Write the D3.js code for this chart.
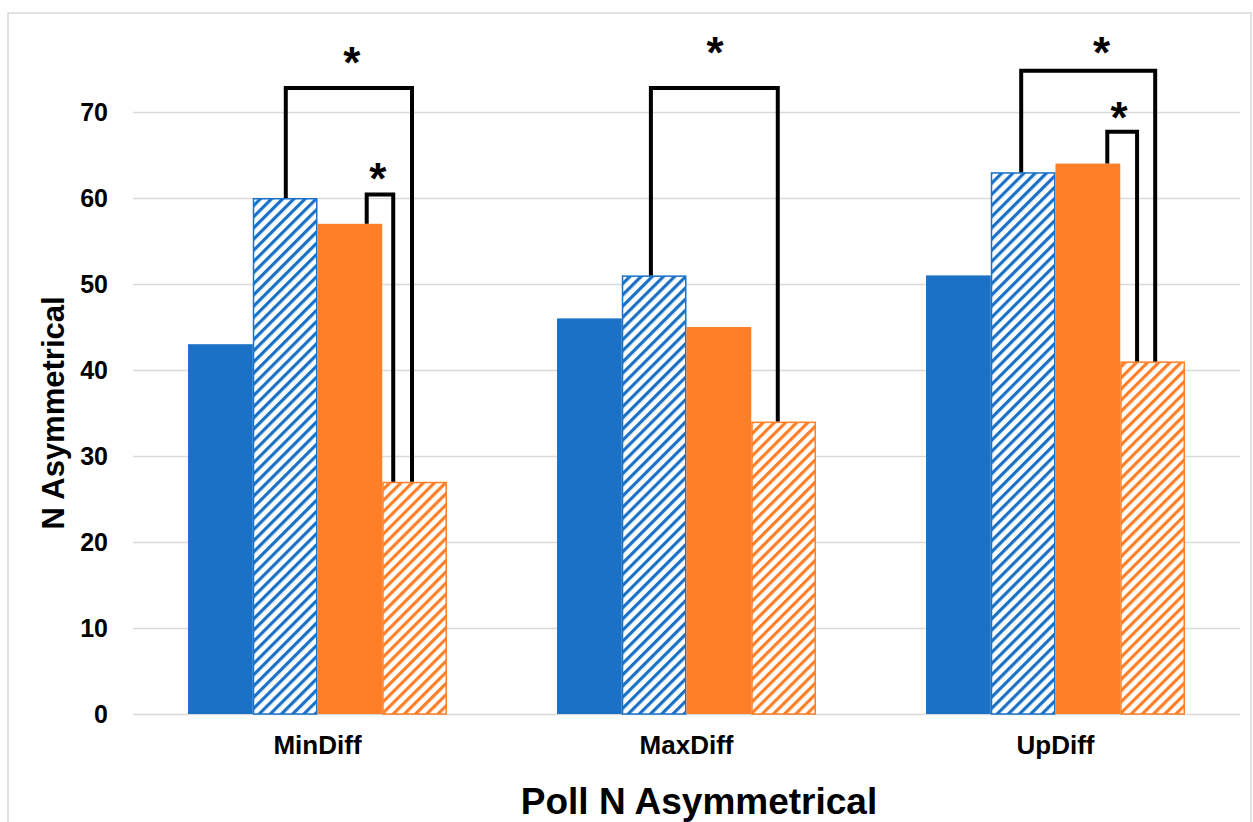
<!DOCTYPE html>
<html>
<head>
<meta charset="utf-8">
<script src="https://cdn.jsdelivr.net/npm/d3@7"></script>
<style>
  html, body { margin: 0; padding: 0; background: #fff; }
  svg { display: block; font-family: "Liberation Sans", Arial, sans-serif; }
</style>
</head>
<body>
<svg id="chart" width="1253" height="822"></svg>
<script>
// ---- data ----
const categories = ["MinDiff", "MaxDiff", "UpDiff"];
const seriesKeys = ["blueSolid", "blueHatched", "orangeSolid", "orangeHatched"];
const blueSolid = [43, 46, 51];
const blueHatched = [60, 51, 63];
const orangeSolid = [57, 45, 64];
const orangeHatched = [27, 34, 41];
const yTicks = [0, 10, 20, 30, 40, 50, 60, 70];
const yTitle = "N Asymmetrical";
const xTitle = "Poll N Asymmetrical";
// significance brackets: category, series index of left/right leg, leg position in bar slots, top value
const brackets = [
  { cat: "MinDiff", from: 1, to: 3, fromPos: 1.51, toPos: 3.46, top: 72.8 },
  { cat: "MinDiff", from: 2, to: 3, fromPos: 2.76, toPos: 3.17, top: 60.4 },
  { cat: "MaxDiff", from: 1, to: 3, fromPos: 1.45, toPos: 3.41, top: 72.8 },
  { cat: "UpDiff",  from: 1, to: 3, fromPos: 1.47, toPos: 3.54, top: 74.8 },
  { cat: "UpDiff",  from: 2, to: 3, fromPos: 2.80, toPos: 3.26, top: 67.7 }
];
const stars = [
  { cat: "MinDiff", pos: 2.53, value: 76.4 },
  { cat: "MinDiff", pos: 2.93, value: 62.9 },
  { cat: "MaxDiff", pos: 2.44, value: 77.6 },
  { cat: "UpDiff",  pos: 2.71, value: 77.6 },
  { cat: "UpDiff",  pos: 2.98, value: 70.0 }
];

const seriesValues = [blueSolid, blueHatched, orangeSolid, orangeHatched];
const table = categories.map((c, i) => ({ cat: c, values: seriesKeys.map((k, j) => ({ key: k, value: seriesValues[j][i] })) }));

// ---- styles ----
const BLUE = "#1A71C6", ORANGE = "#FE7F27", GRID = "#d9d9d9";
const fills = { blueSolid: BLUE, blueHatched: "url(#hatchBlue)", orangeSolid: ORANGE, orangeHatched: "url(#hatchOrange)" };
const strokes = { blueSolid: "none", blueHatched: BLUE, orangeSolid: "none", orangeHatched: ORANGE };

const svg = d3.select("#chart");
const plotLeft = 133, plotRight = 1240, plotTop = 112, plotBottom = 714;

// patterns
const defs = svg.append("defs");
function hatch(id, color) {
  const p = defs.append("pattern").attr("id", id).attr("patternUnits", "userSpaceOnUse")
    .attr("width", 7.9).attr("height", 10).attr("patternTransform", "rotate(45)");
  p.append("rect").attr("width", 7.9).attr("height", 10).attr("fill", "#fff");
  p.append("rect").attr("x", 0).attr("width", 3.2).attr("height", 10).attr("fill", color);
}
hatch("hatchBlue", BLUE);
hatch("hatchOrange", ORANGE);

// border
svg.append("rect").attr("x", 8).attr("y", 13).attr("width", 1243).attr("height", 830)
  .attr("fill", "none").attr("stroke", GRID).attr("stroke-width", 1.5);

const y = d3.scaleLinear().domain([0, 70]).range([plotBottom, plotTop]);
const x0 = d3.scaleBand().domain(categories).range([plotLeft, plotRight]).padding(0);
const x1 = d3.scaleBand().domain(seriesKeys).range([0, x0.bandwidth()]).paddingInner(0).paddingOuter(0.85);

// y axis with gridlines
const yAxis = svg.append("g").attr("transform", `translate(${plotLeft},0)`)
  .call(d3.axisLeft(y).tickValues(yTicks).tickSize(-(plotRight - plotLeft)).tickPadding(25));
yAxis.select(".domain").remove();
yAxis.selectAll(".tick line").attr("stroke", GRID).attr("stroke-width", 1.5);
yAxis.selectAll(".tick text").attr("font-size", 25).attr("font-weight", "bold").attr("fill", "#000")
  .attr("font-family", "Liberation Sans, Arial, sans-serif");

// bars
const groups = svg.append("g").selectAll("g").data(table).join("g")
  .attr("transform", d => `translate(${x0(d.cat)},0)`);
groups.selectAll("rect").data(d => d.values).join("rect")
  .attr("x", d => x1(d.key) + (strokes[d.key] === "none" ? 0 : 0.75))
  .attr("width", d => x1.bandwidth() - (strokes[d.key] === "none" ? 0 : 1.5))
  .attr("y", d => y(d.value) + (strokes[d.key] === "none" ? 0 : 0.75))
  .attr("height", d => plotBottom - y(d.value) - (strokes[d.key] === "none" ? 0 : 0.75))
  .attr("fill", d => fills[d.key])
  .attr("stroke", d => strokes[d.key])
  .attr("stroke-width", 1.5);

// x axis labels
const xAxis = svg.append("g").attr("transform", `translate(0,${plotBottom})`)
  .call(d3.axisBottom(x0).tickSize(0).tickPadding(22));
xAxis.select(".domain").remove();
xAxis.selectAll(".tick text").attr("font-size", 26).attr("font-weight", "bold").attr("fill", "#000")
  .attr("font-family", "Liberation Sans, Arial, sans-serif");

// brackets
const slotX = (cat, pos) => x0(cat) + x1(seriesKeys[0]) + pos * x1.bandwidth();
const catIdx = c => categories.indexOf(c);
svg.append("g").selectAll("path").data(brackets).join("path")
  .attr("d", b => {
    const xl = slotX(b.cat, b.fromPos), xr = slotX(b.cat, b.toPos);
    const yl = y(seriesValues[b.from][catIdx(b.cat)]), yr = y(seriesValues[b.to][catIdx(b.cat)]);
    return `M${xl},${yl}V${y(b.top)}H${xr}V${yr}`;
  })
  .attr("fill", "none").attr("stroke", "#000").attr("stroke-width", 4).attr("stroke-linejoin", "miter");

// stars
svg.append("g").selectAll("text").data(stars).join("text")
  .attr("x", s => slotX(s.cat, s.pos))
  .attr("y", s => y(s.value) + 21)
  .attr("text-anchor", "middle").attr("font-size", 44).attr("font-weight", "bold").text("*");

// titles
svg.append("text").attr("transform", "translate(64,413) rotate(-90)")
  .attr("text-anchor", "middle").attr("font-size", 31).attr("font-weight", "bold").text(yTitle);
svg.append("text").attr("x", 699).attr("y", 814)
  .attr("text-anchor", "middle").attr("font-size", 37).attr("font-weight", "bold").text(xTitle);
</script>
</body>
</html>
